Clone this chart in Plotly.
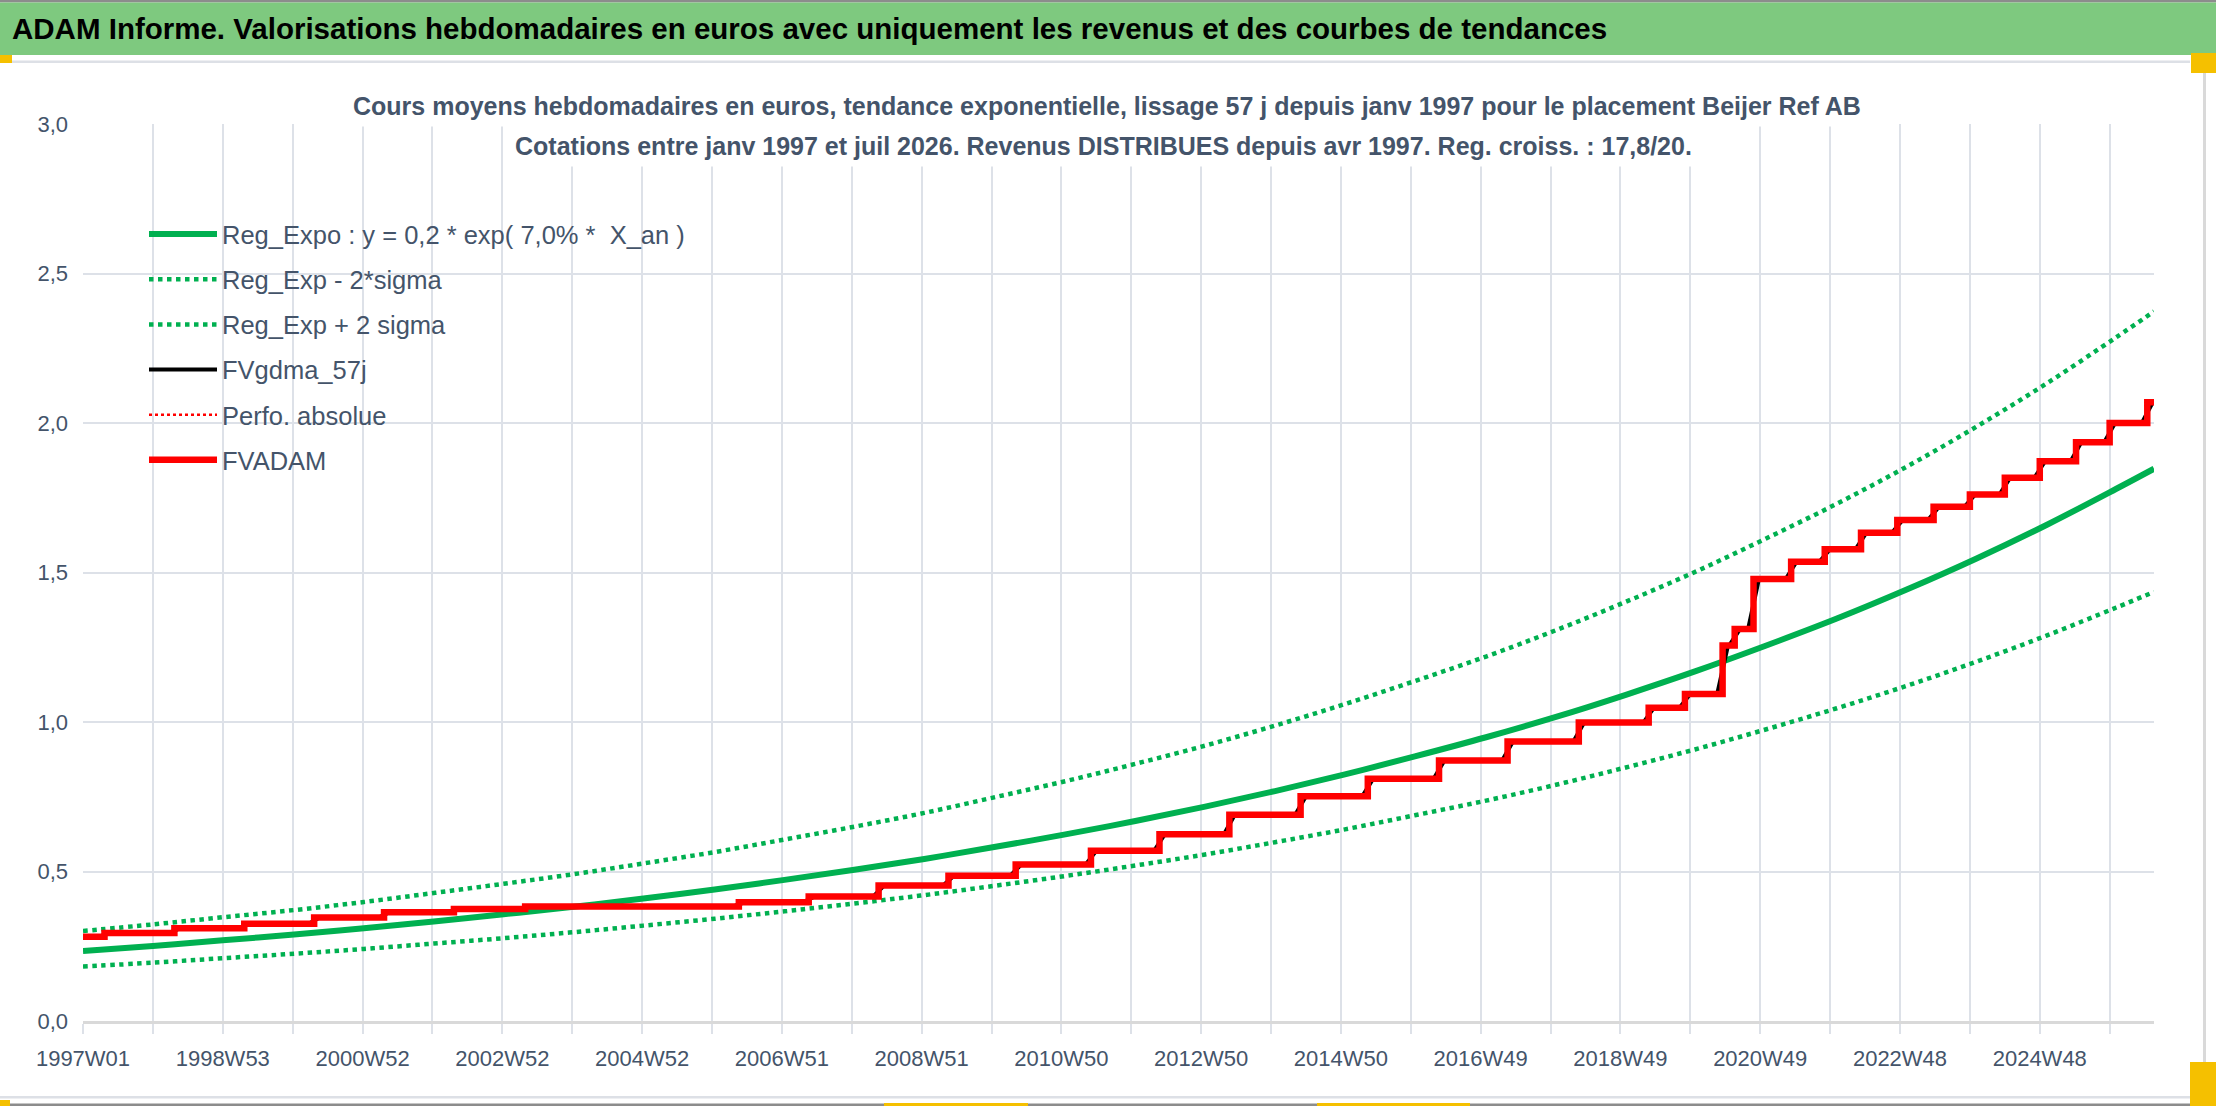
import plotly.graph_objects as go

# ---------------- data ----------------
X_TICK_LABELS = ["1997W01", "1998W53", "2000W52", "2002W52", "2004W52", "2006W51", "2008W51",
                 "2010W50", "2012W50", "2014W50", "2016W49", "2018W49", "2020W49", "2022W48", "2024W48"]
LAST_WEEK = 1541

# trend curves sampled yearly (week index)
TREND_WEEK = [0, 52, 104, 157, 209, 261, 313, 365, 417, 470, 522, 574, 626, 678, 731, 783, 835,
              887, 939, 991, 1044, 1096, 1148, 1200, 1252, 1305, 1357, 1409, 1461, 1513, 1541]
REG_EXPO = [0.234, 0.251, 0.270, 0.289, 0.310, 0.333, 0.357, 0.382, 0.410, 0.440, 0.472, 0.506,
            0.542, 0.582, 0.624, 0.669, 0.717, 0.769, 0.825, 0.885, 0.949, 1.017, 1.091, 1.170,
            1.255, 1.346, 1.443, 1.547, 1.659, 1.780, 1.847]
REG_MINUS = [0.182, 0.195, 0.210, 0.225, 0.241, 0.259, 0.277, 0.297, 0.319, 0.342, 0.367, 0.393,
             0.421, 0.452, 0.485, 0.520, 0.557, 0.598, 0.641, 0.688, 0.737, 0.790, 0.848, 0.909,
             0.975, 1.046, 1.121, 1.202, 1.289, 1.383, 1.435]
REG_PLUS = [0.301, 0.323, 0.347, 0.371, 0.398, 0.428, 0.459, 0.491, 0.527, 0.565, 0.607, 0.650,
            0.696, 0.748, 0.802, 0.860, 0.921, 0.988, 1.060, 1.137, 1.219, 1.307, 1.402, 1.503,
            1.613, 1.730, 1.854, 1.988, 2.132, 2.287, 2.373]

# FVADAM value steps (week index where the new level starts, level)
STEP_WEEK = [0, 16, 68, 120, 172, 224, 276, 329, 488, 540, 592, 644, 694, 750, 801, 853, 906, 956,
             1009, 1060, 1113, 1165, 1192, 1220, 1229, 1243, 1271, 1296, 1323, 1350, 1377, 1404,
             1430, 1456, 1483, 1508, 1536, 1541]
STEP_VALUE = [0.282, 0.294, 0.310, 0.325, 0.346, 0.364, 0.375, 0.383, 0.397, 0.416, 0.453, 0.486,
              0.523, 0.569, 0.625, 0.690, 0.752, 0.810, 0.871, 0.935, 0.998, 1.048, 1.094, 1.256,
              1.311, 1.478, 1.536, 1.578, 1.633, 1.676, 1.720, 1.761, 1.817, 1.872, 1.936, 2.000,
              2.069, 2.069]
SMOOTH_HALF = 4  # half-width (weeks) of the 57-day smoothing ramps

TITLE = "ADAM Informe. Valorisations hebdomadaires en euros avec uniquement les revenus et des courbes de tendances"
SUB1 = "Cours moyens hebdomadaires en euros, tendance exponentielle, lissage 57 j depuis janv 1997 pour le placement Beijer Ref AB"
SUB2 = "Cotations entre janv 1997 et juil 2026. Revenus DISTRIBUES depuis avr 1997. Reg. croiss. : 17,8/20."

# ---------------- geometry ----------------
W, H = 2216, 1106
ML, MR, MT, MB = 83, 62, 124, 85
PW, PH = W - ML - MR, H - MT - MB


def px(x):
    return (x - ML) / PW


def py(y):
    return (H - MB - y) / PH


FONT = "Liberation Sans, Arial, sans-serif"
TXT = "#44546A"
GREEN = "#00B050"

# smoothed series points built from the steps
gx, gy = [STEP_WEEK[0]], [STEP_VALUE[0]]
for i in range(1, len(STEP_WEEK) - 1):
    gx += [STEP_WEEK[i] - SMOOTH_HALF, STEP_WEEK[i] + SMOOTH_HALF]
    gy += [STEP_VALUE[i - 1], STEP_VALUE[i]]
gx.append(STEP_WEEK[-1])
gy.append(STEP_VALUE[-1])

fig = go.Figure()
fig.add_trace(go.Scatter(x=TREND_WEEK, y=REG_EXPO, mode="lines", line_shape="spline",
                         name="Reg_Expo : y = 0,2 * exp( 7,0% *  X_an )",
                         line=dict(color=GREEN, width=6), legendgroup="a"))
fig.add_trace(go.Scatter(x=TREND_WEEK, y=REG_MINUS, mode="lines", line_shape="spline",
                         name="Reg_Exp - 2*sigma",
                         line=dict(color=GREEN, width=4.5, dash="dot"), legendgroup="b"))
fig.add_trace(go.Scatter(x=TREND_WEEK, y=REG_PLUS, mode="lines", line_shape="spline",
                         name="Reg_Exp + 2 sigma",
                         line=dict(color=GREEN, width=4.5, dash="dot"), legendgroup="c"))
fig.add_trace(go.Scatter(x=gx, y=gy, mode="lines", name="FVgdma_57j",
                         line=dict(color="#000000", width=4), legendgroup="d"))
fig.add_trace(go.Scatter(x=STEP_WEEK, y=STEP_VALUE, mode="lines", line_shape="hv",
                         name="Perfo. absolue",
                         line=dict(color="#FF0000", width=2.5, dash="dot"), legendgroup="e"))
fig.add_trace(go.Scatter(x=STEP_WEEK, y=STEP_VALUE, mode="lines", line_shape="hv",
                         name="FVADAM",
                         line=dict(color="#FF0000", width=6.5), legendgroup="f"))

tickvals = list(range(0, LAST_WEEK, 52))
ticktext = [X_TICK_LABELS[i // 2] if i % 2 == 0 and i // 2 < len(X_TICK_LABELS) else ""
            for i in range(len(tickvals))]

fig.update_layout(
    width=W, height=H,
    margin=dict(l=ML, r=MR, t=MT, b=MB, autoexpand=False),
    paper_bgcolor="white", plot_bgcolor="white",
    separators=", ",
    font=dict(family=FONT, color=TXT),
    showlegend=True,
    legend=dict(x=px(144), y=py(211), xanchor="left", yanchor="top",
                bgcolor="rgba(0,0,0,0)", font=dict(size=25.5, color=TXT, family=FONT),
                tracegroupgap=9, itemwidth=68, traceorder="grouped"),
    xaxis=dict(range=[0, LAST_WEEK], tickmode="array", tickvals=tickvals, ticktext=ticktext,
               showgrid=True, gridcolor="#DDE1E8", gridwidth=1.6,
               showline=True, linecolor="#D9D9D9", linewidth=3,
               ticks="outside", ticklen=10, tickwidth=1.6, tickcolor="#DDE1E8",
               tickfont=dict(size=22, color=TXT, family=FONT), ticklabelstandoff=6,
               zeroline=False, fixedrange=True),
    yaxis=dict(range=[0, 3], dtick=0.5, tick0=0, tickformat=".1f",
               showgrid=True, gridcolor="#DDE1E8", gridwidth=1.6,
               zeroline=False, showline=False, ticks="",
               tickfont=dict(size=22, color=TXT, family=FONT), ticklabelstandoff=14,
               fixedrange=True),
)


def rect(x0, y0, x1, y1, color):
    fig.add_shape(type="rect", xref="paper", yref="paper", x0=px(x0), x1=px(x1),
                  y0=py(y1), y1=py(y0), fillcolor=color, line=dict(width=0), layer="above")


# frame decorations
rect(0, 0, W, 2.5, "#8C8C8C")
rect(0, 2.5, W, 55, "#7EC97F")
rect(12, 60.5, 2190, 63, "#DDE0E6")
rect(0, 55, 12, 63, "#F5C000")
rect(2191, 53, W, 73, "#F5C000")
rect(2203, 73, 2206, 1062, "#D9D9D9")
rect(0, 1096, 2190, 1098.5, "#DDE0E6")
rect(0, 1103.5, W, H, "#8C8C8C")
rect(0, 1100, 10, H, "#F5C000")
rect(884, 1103, 1028, H, "#F5C000")
rect(1317, 1103, 1470, H, "#F5C000")
rect(2190, 1062, W, H, "#F5C000")

fig.add_annotation(text="<b>" + TITLE + "</b>", xref="paper", yref="paper",
                   x=px(10), y=py(29), xanchor="left", yanchor="middle", showarrow=False,
                   font=dict(size=29.5, color="#000000", family=FONT))
fig.add_annotation(text="<b>" + SUB1 + "</b>", xref="paper", yref="paper",
                   x=px(1107), y=py(106), xanchor="center", yanchor="middle", showarrow=False,
                   bgcolor="white", borderpad=6, align="center",
                   font=dict(size=25, color=TXT, family=FONT))
fig.add_annotation(text="<b>" + SUB2 + "</b>", xref="paper", yref="paper",
                   x=px(1103), y=py(146), xanchor="center", yanchor="middle", showarrow=False,
                   bgcolor="white", borderpad=6, align="center",
                   font=dict(size=25, color=TXT, family=FONT))

fig.write_html("out.html", config={"displayModeBar": False},
               post_script="document.body.style.margin='0';document.body.style.overflow='hidden';")
